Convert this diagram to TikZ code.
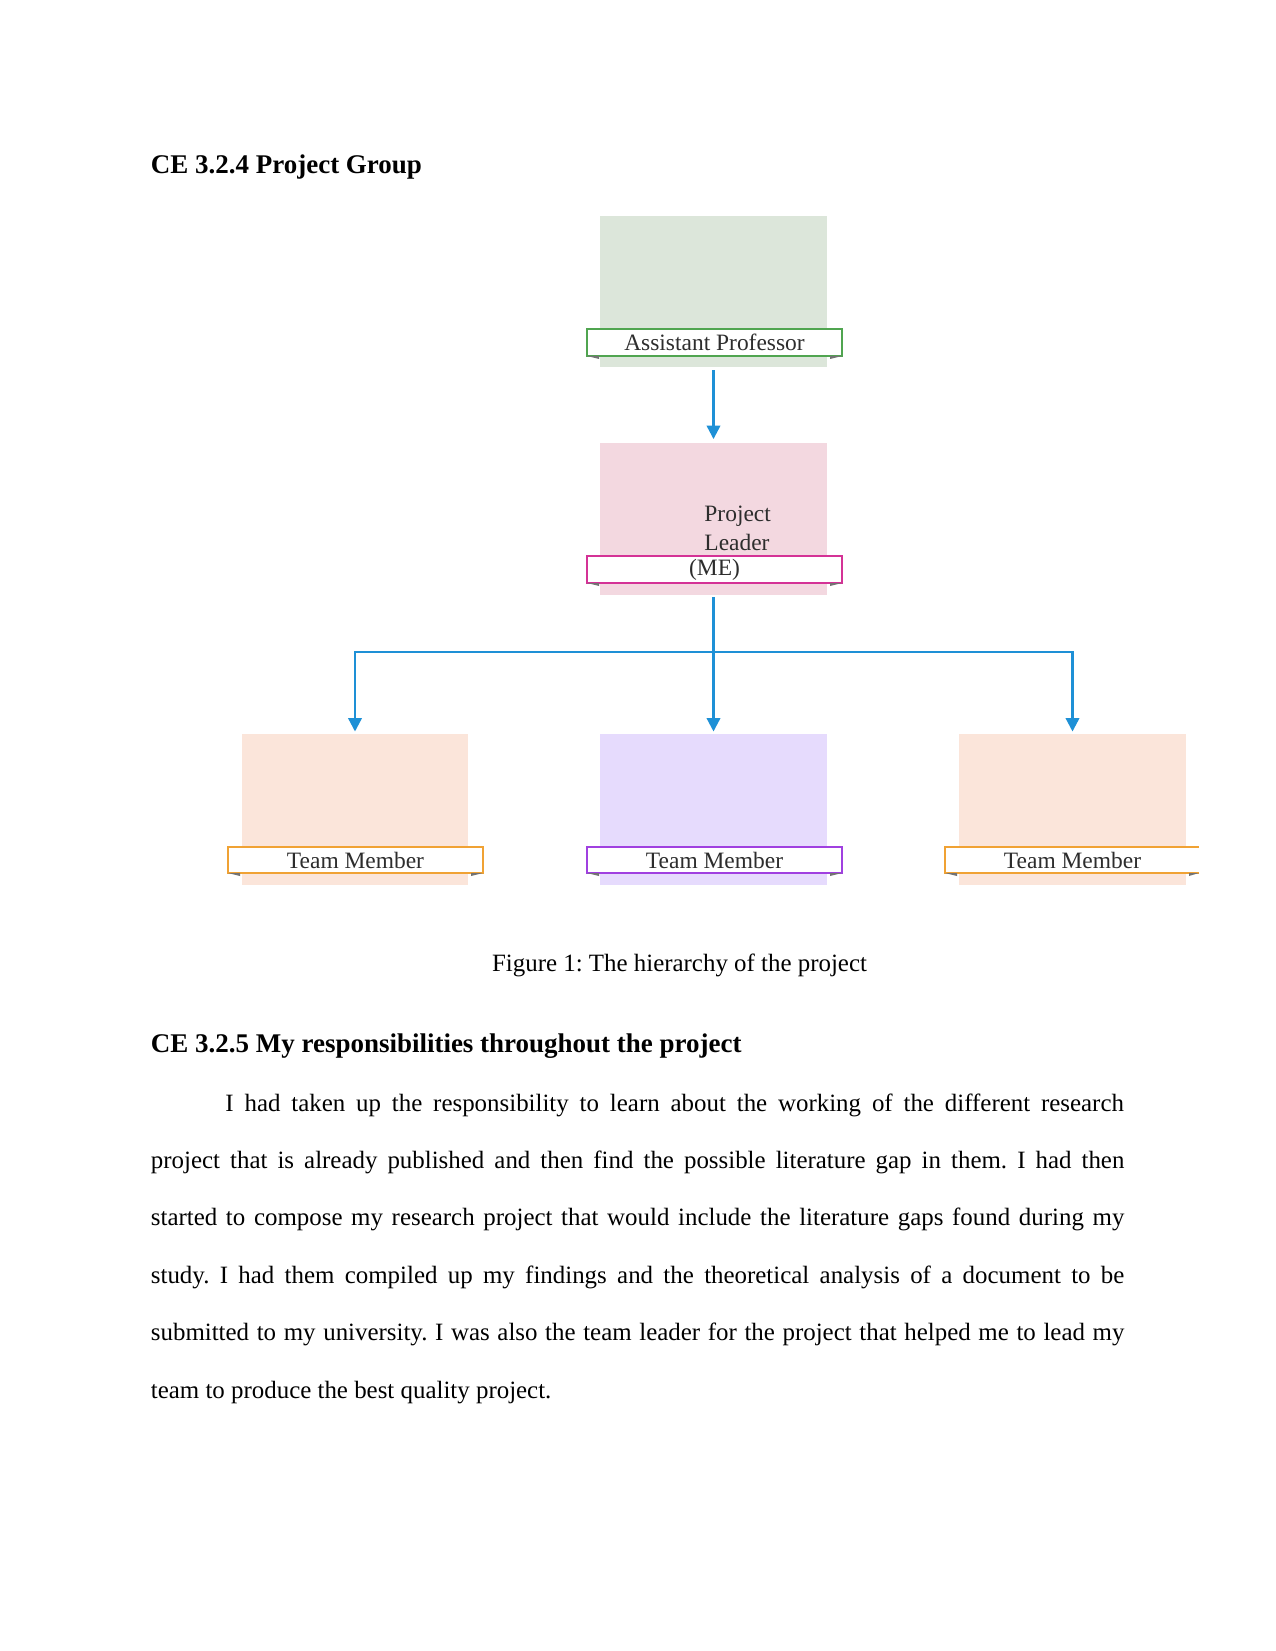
\documentclass[tikz,border=0pt]{standalone}
\usepackage{fontspec}
\setmainfont{Liberation Serif}
\usetikzlibrary{arrows.meta,fit}
\definecolor{apfill}{RGB}{220,230,218}
\definecolor{apline}{RGB}{80,165,80}
\definecolor{plfill}{RGB}{243,216,224}
\definecolor{plline}{RGB}{212,50,150}
\definecolor{orfill}{RGB}{251,229,218}
\definecolor{orline}{RGB}{240,162,52}
\definecolor{pufill}{RGB}{230,219,253}
\definecolor{puline}{RGB}{160,64,224}
\definecolor{arrowblue}{RGB}{30,144,214}
\definecolor{txtgray}{RGB}{45,45,45}
\frenchspacing
\begin{document}
\begin{tikzpicture}[x=0.48180pt,y=-0.48180pt,
  fillbox/.style={inner sep=0pt, outer sep=0pt, draw=none},
  banner/.style={inner sep=0pt, outer sep=0pt, fill=white, line width=1pt},
  lbl/.style={font=\fontsize{11.3}{14}\selectfont, text=txtgray, inner sep=0pt},
  conn/.style={draw=arrowblue, line width=1.1pt, -{Triangle[width=6.5pt,length=6.5pt]}},
  link/.style={draw=arrowblue, line width=1.1pt},
  fold/.style={fill=black!55},
  head/.style={font=\fontsize{13}{15}\selectfont\bfseries, anchor=base west, inner sep=0pt},
  body/.style={font=\fontsize{12}{14}\selectfont\frenchspacing, inner sep=0pt, anchor=base west},
  jline/.style={body, align=justify}
]
\fill[white] (0,0) rectangle (1275,1651);

% headings
\node[head] (h1) at (150.5,174) {CE 3.2.4 Project Group};

% Assistant Professor
\node[fillbox, fill=apfill, fit={(600,216) (827,367)}] (ap) {};
\node[banner, draw=apline, fit={(587,329) (842,356)}] (apb) {};
\fill[fold] (apb.south west) -- ++(12,0) -- ++(0,3) -- cycle;
\fill[fold] (apb.south east) -- ++(-12,0) -- ++(0,3) -- cycle;
\node[lbl] (apt) at (apb.center) {Assistant Professor};

% Project Leader
\node[fillbox, fill=plfill, fit={(600,443) (827,595)}] (pl) {};
\node[banner, draw=plline, fit={(587,556) (842,583)}] (plb) {};
\fill[fold] (plb.south west) -- ++(12,0) -- ++(0,3) -- cycle;
\fill[fold] (plb.south east) -- ++(-12,0) -- ++(0,3) -- cycle;
\node[lbl, anchor=west, align=left] (plt) at (704,528) {Project\\Leader};
\node[lbl] (plm) at (plb.center) {(ME)};

% Team members
\node[fillbox, fill=orfill, fit={(242,734) (468,885)}] (tm1) {};
\node[banner, draw=orline, fit={(228,847) (483,873)}] (tm1b) {};
\fill[fold] (tm1b.south west) -- ++(12,0) -- ++(0,3) -- cycle;
\fill[fold] (tm1b.south east) -- ++(-12,0) -- ++(0,3) -- cycle;
\node[lbl] (tm1t) at (tm1b.center) {Team Member};

\node[fillbox, fill=pufill, fit={(600,734) (827,885)}] (tm2) {};
\node[banner, draw=puline, fit={(587,847) (842,873)}] (tm2b) {};
\fill[fold] (tm2b.south west) -- ++(12,0) -- ++(0,3) -- cycle;
\fill[fold] (tm2b.south east) -- ++(-12,0) -- ++(0,3) -- cycle;
\node[lbl] (tm2t) at (tm2b.center) {Team Member};

\node[fillbox, fill=orfill, fit={(959,734) (1186,885)}] (tm3) {};
\node[fillbox, fill=white, fit={(945,847) (1199,873)}] (tm3b) {};
\draw[orline, line width=1pt] (tm3b.north east) -- (tm3b.north west) -- (tm3b.south west) -- (tm3b.south east);
\fill[fold] (tm3b.south west) -- ++(12,0) -- ++(0,3) -- cycle;
\fill[fold] (1199,873) -- ++(-10,0) -- ++(0,3) -- cycle;
\node[lbl] (tm3t) at (1072.5,860) {Team Member};

% connectors
\draw[conn] ([yshift=-1.5pt]ap.south) -- ([yshift=1.9pt]pl.north);
\coordinate (hub) at (pl.south |- 0,652);
\draw[link] ([yshift=-1pt]pl.south) -- (hub);
\draw[conn] (hub) -| ([yshift=1.2pt]tm1.north);
\draw[conn] (hub) -| ([yshift=1.2pt]tm3.north);
\draw[conn] (hub) -- ([yshift=1.2pt]tm2.north);

% caption
\node[body, anchor=base] (cap) at (679.5,971) {Figure 1: The hierarchy of the project};

% second heading
\node[head] (h2) at (150.5,1052) {CE 3.2.5 My responsibilities throughout the project};

% paragraph
\node[jline, text width=432.9pt] (p1) at (225,1111) {\parindent=0pt\parfillskip=0pt I had taken up the responsibility to learn about the working of the different research\par};
\node[jline, text width=469pt] (p2) at (150.5,1168.4) {\parindent=0pt\parfillskip=0pt project that is already published and then find the possible literature gap in them. I had then\par};
\node[jline, text width=469pt] (p3) at (150.5,1225.8) {\parindent=0pt\parfillskip=0pt started to compose my research project that would include the literature gaps found during my\par};
\node[jline, text width=469pt] (p4) at (150.5,1283.2) {\parindent=0pt\parfillskip=0pt study. I had them compiled up my findings and the theoretical analysis of a document to be\par};
\node[jline, text width=469pt] (p5) at (150.5,1340.6) {\parindent=0pt\parfillskip=0pt submitted to my university. I was also the team leader for the project that helped me to lead my\par};
\node[body] (p6) at (150.5,1398) {team to produce the best quality project.};
\end{tikzpicture}
\end{document}
